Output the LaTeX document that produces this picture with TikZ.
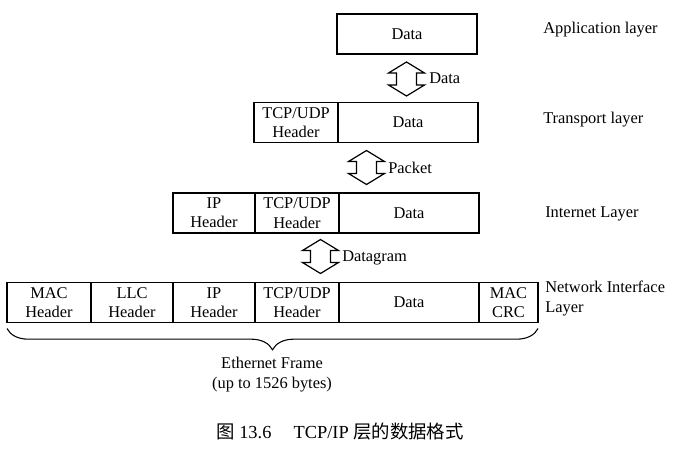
\documentclass[tikz,border=0pt]{standalone}
\usepackage{fontspec}
\setmainfont{Liberation Serif}
\newfontfamily\cjk{Noto Sans CJK SC}
\usepackage{tikz}
\usetikzlibrary{positioning,decorations.pathreplacing}
\tikzset{
  fld/.style={draw,line width=1.1pt,outer sep=0pt,inner sep=0pt,minimum height=30pt,align=center,font=\fontsize{12.3}{14.5}\selectfont},
  lyr/.style={anchor=west,inner sep=0pt,align=left,font=\fontsize{12.3}{15}\selectfont},
  lbl/.style={anchor=west,inner sep=0pt,font=\fontsize{12.3}{14.5}\selectfont},
  hol/.style={draw,line width=0.9pt,line join=miter},
  brc/.style={decorate,decoration={brace,mirror,amplitude=16pt},line width=0.8pt}
}
\newcommand{\updn}[2]{\draw[hol] (#1,#2) ++(0,-17) -- ++(18,11) -- ++(-8,0) -- ++(0,12) -- ++(8,0) -- ++(-18,11) -- ++(-18,-11) -- ++(8,0) -- ++(0,-12) -- ++(-8,0) -- cycle;}

\begin{document}
\begin{tikzpicture}[x=0.75pt,y=-0.75pt]
\useasboundingbox (0,0) rectangle (673,449);
% application layer
\node[fld,minimum width=105pt,anchor=west] (apd) at (337,34) {Data};
\node[lyr] (apl) at (543,30) {Application layer};
\updn{406.5}{79}
\node[lbl] (a1) at (429,78) {Data};
% transport layer
\node[fld,minimum width=63pt,anchor=west] (tph) at (254,122.5) {TCP/UDP\\Header};
\node[fld,minimum width=105pt,right=0pt of tph] (tpd) {Data};
\node[lyr] (tpl) at (543,120) {Transport layer};
\updn{366.5}{167.5}
\node[lbl] (a2) at (388,168) {Packet};
% internet layer
\node[fld,minimum width=61.5pt,anchor=west] (iph) at (173,213) {IP\\Header};
\node[fld,minimum width=63pt,right=0pt of iph] (itc) {TCP/UDP\\Header};
\node[fld,minimum width=105pt,right=0pt of itc] (ipd) {Data};
\node[lyr] (inl) at (545,214) {Internet Layer};
\updn{320.5}{256.5}
\node[lbl] (a3) at (342,258) {Datagram};
% network interface layer
\node[fld,minimum width=63pt,anchor=west] (mac) at (7,302.5) {MAC\\Header};
\node[fld,minimum width=61.5pt,right=0pt of mac] (llc) {LLC\\Header};
\node[fld,minimum width=61.5pt,right=0pt of llc] (nip) {IP\\Header};
\node[fld,minimum width=63pt,right=0pt of nip] (ntc) {TCP/UDP\\Header};
\node[fld,minimum width=105pt,right=0pt of ntc] (nd) {Data};
\node[fld,minimum width=44.25pt,right=0pt of nd] (crc) {MAC\\CRC};
\node[lyr] (nil) at (545,298) {Network Interface\\Layer};
% frame
\draw[brc] ([yshift=-4.5pt]mac.south west) -- ([yshift=-4.5pt]crc.south east);
\node[align=center,font=\fontsize{12.3}{15}\selectfont] (frm) at (272,375) {Ethernet Frame\\(up to 1526 bytes)};
\node[font=\fontsize{13.8}{15}\selectfont] (cap) at (340,432) {{\cjk 图} 13.6\hspace{1.2em}TCP/IP {\cjk 层的数据格式}};
\end{tikzpicture}
\end{document}
